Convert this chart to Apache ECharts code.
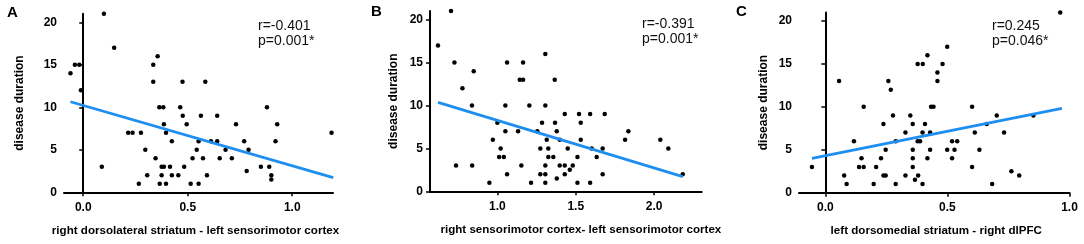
<!DOCTYPE html>
<html>
<head>
<meta charset="utf-8">
<script src="https://cdn.jsdelivr.net/npm/echarts@6/dist/echarts.min.js"></script>
<style>
  html, body { margin: 0; padding: 0; background: #fff; }
  #main { width: 1084px; height: 244px; }
</style>
</head>
<body>
<div id="main"></div>
<script>
// panel A: right dorsolateral striatum - left sensorimotor cortex
var aX = [-0.061, -0.040, -0.019, -0.011, 0.099, 0.148, 0.089, 0.215, 0.236, 0.276, 0.297, 0.306, 0.266,
  0.335, 0.356, 0.335, 0.346, 0.364, 0.383, 0.386, 0.396, 0.375, 0.386, 0.375, 0.366, 0.396, 0.415,
  0.424, 0.424, 0.455, 0.464, 0.475, 0.476, 0.495, 0.483, 0.514, 0.523, 0.543, 0.552, 0.552, 0.563,
  0.573, 0.584, 0.592, 0.611, 0.641, 0.641, 0.653, 0.681, 0.711, 0.731, 0.770, 0.782, 0.791, 0.850,
  0.879, 0.890, 0.900, 0.900, 0.920, 0.928, 1.188];
var aY = [14, 15, 15, 12, 21, 17, 3, 7, 7, 7, 5, 2, 1,
  15, 16, 13, 4, 10, 10, 8, 7, 3, 3, 2, 1, 1, 3,
  6, 2, 2, 10, 13, 9, 8, 3, 1, 4, 5, 6, 1, 9,
  4, 13, 2, 6, 9, 6, 4, 5, 4, 8, 6, 2.5, 5, 3,
  10, 3, 2, 1.5, 6, 8, 7];
var aFit = [[-0.061, 10.65], [1.196, 1.72]];

// panel B: right sensorimotor cortex- left sensorimotor cortex
var bX = [0.621, 0.704, 0.726, 0.736, 0.777, 0.838, 0.839, 0.849, 0.949, 0.971, 1.0, 1.011, 1.021,
  1.041, 1.051, 1.051, 1.062, 1.062, 1.132, 1.143, 1.164, 1.153, 1.164, 1.204, 1.215, 1.255, 1.274,
  1.274, 1.285, 1.306, 1.306, 1.306, 1.306, 1.306, 1.315, 1.325, 1.325, 1.357, 1.366, 1.368, 1.379,
  1.379, 1.398, 1.398, 1.430, 1.430, 1.462, 1.430, 1.449, 1.481, 1.511, 1.511, 1.521, 1.532, 1.532,
  1.592, 1.592, 1.602, 1.634, 1.672, 1.672, 1.685, 1.815, 1.836, 2.040, 2.091, 2.183];
var bY = [17, 21, 15, 3, 12, 10, 3, 14, 1, 6, 8, 4, 5,
  4, 10, 7, 15, 2, 7, 13, 13, 3, 15, 10, 1, 7, 5,
  2, 8, 16, 10, 3, 2, 1, 6, 5, 4, 4, 13, 8, 7,
  1.5, 6, 3, 3, 2, 2.5, 9, 5, 3, 4, 1, 9, 8, 6,
  9, 1, 5, 4, 5, 2, 9, 6, 7, 6, 5, 2];
var bFit = [[0.621, 10.37], [2.183, 1.71]];

// panel C: left dorsomedial striatum - right dlPFC
var cX = [-0.055, 0.056, 0.077, 0.087, 0.117, 0.148, 0.138, 0.157, 0.157, 0.198, 0.208, 0.228, 0.238,
  0.238, 0.247, 0.247, 0.258, 0.268, 0.277, 0.288, 0.288, 0.328, 0.328, 0.348, 0.358, 0.358, 0.358,
  0.358, 0.367, 0.378, 0.378, 0.380, 0.388, 0.398, 0.398, 0.399, 0.408, 0.418, 0.418, 0.429, 0.429,
  0.433, 0.443, 0.459, 0.459, 0.480, 0.499, 0.499, 0.519, 0.519, 0.529, 0.540, 0.601, 0.601, 0.612,
  0.631, 0.661, 0.683, 0.702, 0.732, 0.762, 0.794, 0.852, 0.962];
var cY = [3, 13, 2, 1, 6, 4, 3, 3, 10, 1, 3, 4, 8,
  2, 2, 5, 13, 12, 9, 6, 1, 7, 2, 9, 8, 5, 4,
  3, 1.5, 15, 6, 2, 6, 7, 1, 15, 8, 4, 16, 5, 7,
  10, 10, 14, 13, 15, 17, 5, 6, 4, 5, 6, 10, 3, 7,
  5, 8, 1, 9, 7, 2.5, 2, 9, 21];
var cFit = [[-0.055, 4.0], [0.969, 9.83]];

var yTicks = [0, 5, 10, 15, 20];
var xTicksA = [0, 0.5, 1.0];
var xTicksB = [1.0, 1.5, 2.0];
var xTicksC = [0, 0.5, 1.0];

var xNames = ['right dorsolateral striatum - left sensorimotor cortex',
  'right sensorimotor cortex- left sensorimotor cortex',
  'left dorsomedial striatum - right dlPFC'];
var stats = ['r=-0.401\np=0.001*', 'r=-0.391\np=0.001*', 'r=0.245\np=0.046*'];
var letters = ['A', 'B', 'C'];

var FONT = 'Liberation Sans, Arial, sans-serif';

function pairs(xs, ys) {
  return xs.map(function (x, i) { return [x, ys[i]]; });
}

// name offsets differ a little per panel in the original figure
var xNamePad = [[0, 6, 0, 0], [0, 0, 0, 30], [0, 0, 0, 4]];
var yNameGap = [38, 30, 29];

function xAxisFor(idx, min, max, ticks) {
  return {
    type: 'value', gridIndex: idx, min: min, max: max,
    name: xNames[idx], nameLocation: 'middle', nameGap: 32,
    nameTextStyle: { color: '#000', fontFamily: FONT, fontWeight: 'bold', fontSize: 11.6, padding: xNamePad[idx] },
    axisLine: { onZero: false, lineStyle: { color: '#000', width: 2 } },
    axisTick: { length: 4, lineStyle: { color: '#000', width: 1.5 }, customValues: ticks },
    axisLabel: {
      customValues: ticks, margin: 9, color: '#000', fontFamily: FONT, fontWeight: 'bold', fontSize: 12,
      formatter: function (v) { return v.toFixed(1); }
    },
    splitLine: { show: false }
  };
}

function yAxisFor(idx) {
  return {
    type: 'value', gridIndex: idx, min: 0, max: 21,
    name: 'disease duration', nameLocation: 'middle', nameGap: yNameGap[idx], nameRotate: 90,
    nameTextStyle: { color: '#000', fontFamily: FONT, fontWeight: 'bold', fontSize: 12 },
    axisLine: { show: true, lineStyle: { color: '#000', width: 2 } },
    axisTick: { show: true, length: 4, lineStyle: { color: '#000', width: 1.5 }, customValues: yTicks },
    axisLabel: { customValues: yTicks, margin: 7, color: '#000', fontFamily: FONT, fontWeight: 'bold', fontSize: 12 },
    splitLine: { show: false }
  };
}

function scatterFor(idx, xs, ys) {
  return {
    type: 'scatter', xAxisIndex: idx, yAxisIndex: idx, data: pairs(xs, ys),
    symbolSize: 4.5, itemStyle: { color: '#000', opacity: 1 }, silent: true
  };
}

function fitFor(idx, pts) {
  return {
    type: 'line', xAxisIndex: idx, yAxisIndex: idx, data: pts,
    symbol: 'none', lineStyle: { color: '#1e8ef0', width: 2.8 }, z: 3, silent: true
  };
}

var statPos = [[258, 19], [642, 17], [992, 19]];
var letterPos = [[7, 5], [371, 4], [736, 4]];

var graphics = [];
for (var i = 0; i < 3; i++) {
  graphics.push({
    type: 'text', left: statPos[i][0], top: statPos[i][1],
    style: { text: stats[i], fill: '#111', font: '14px ' + FONT, lineHeight: 15 }
  });
  graphics.push({
    type: 'text', left: letterPos[i][0], top: letterPos[i][1],
    style: { text: letters[i], fill: '#000', font: 'bold 15px ' + FONT }
  });
}

var option = {
  backgroundColor: '#fff',
  animation: false,
  grid: [
    { left: 64, top: 13.8, width: 269, height: 178.5 },
    { left: 430, top: 11.1, width: 271.7, height: 180.2 },
    { left: 799, top: 12.4, width: 270.5, height: 180.3 }
  ],
  xAxis: [
    xAxisFor(0, -0.092, 1.195, xTicksA),
    xAxisFor(1, 0.570, 2.304, xTicksB),
    xAxisFor(2, -0.108, 1.0, xTicksC)
  ],
  yAxis: [yAxisFor(0), yAxisFor(1), yAxisFor(2)],
  series: [
    scatterFor(0, aX, aY), fitFor(0, aFit),
    scatterFor(1, bX, bY), fitFor(1, bFit),
    scatterFor(2, cX, cY), fitFor(2, cFit)
  ],
  graphic: graphics
};

var myChart = echarts.init(document.getElementById('main'));
myChart.setOption(option);
</script>
</body>
</html>
